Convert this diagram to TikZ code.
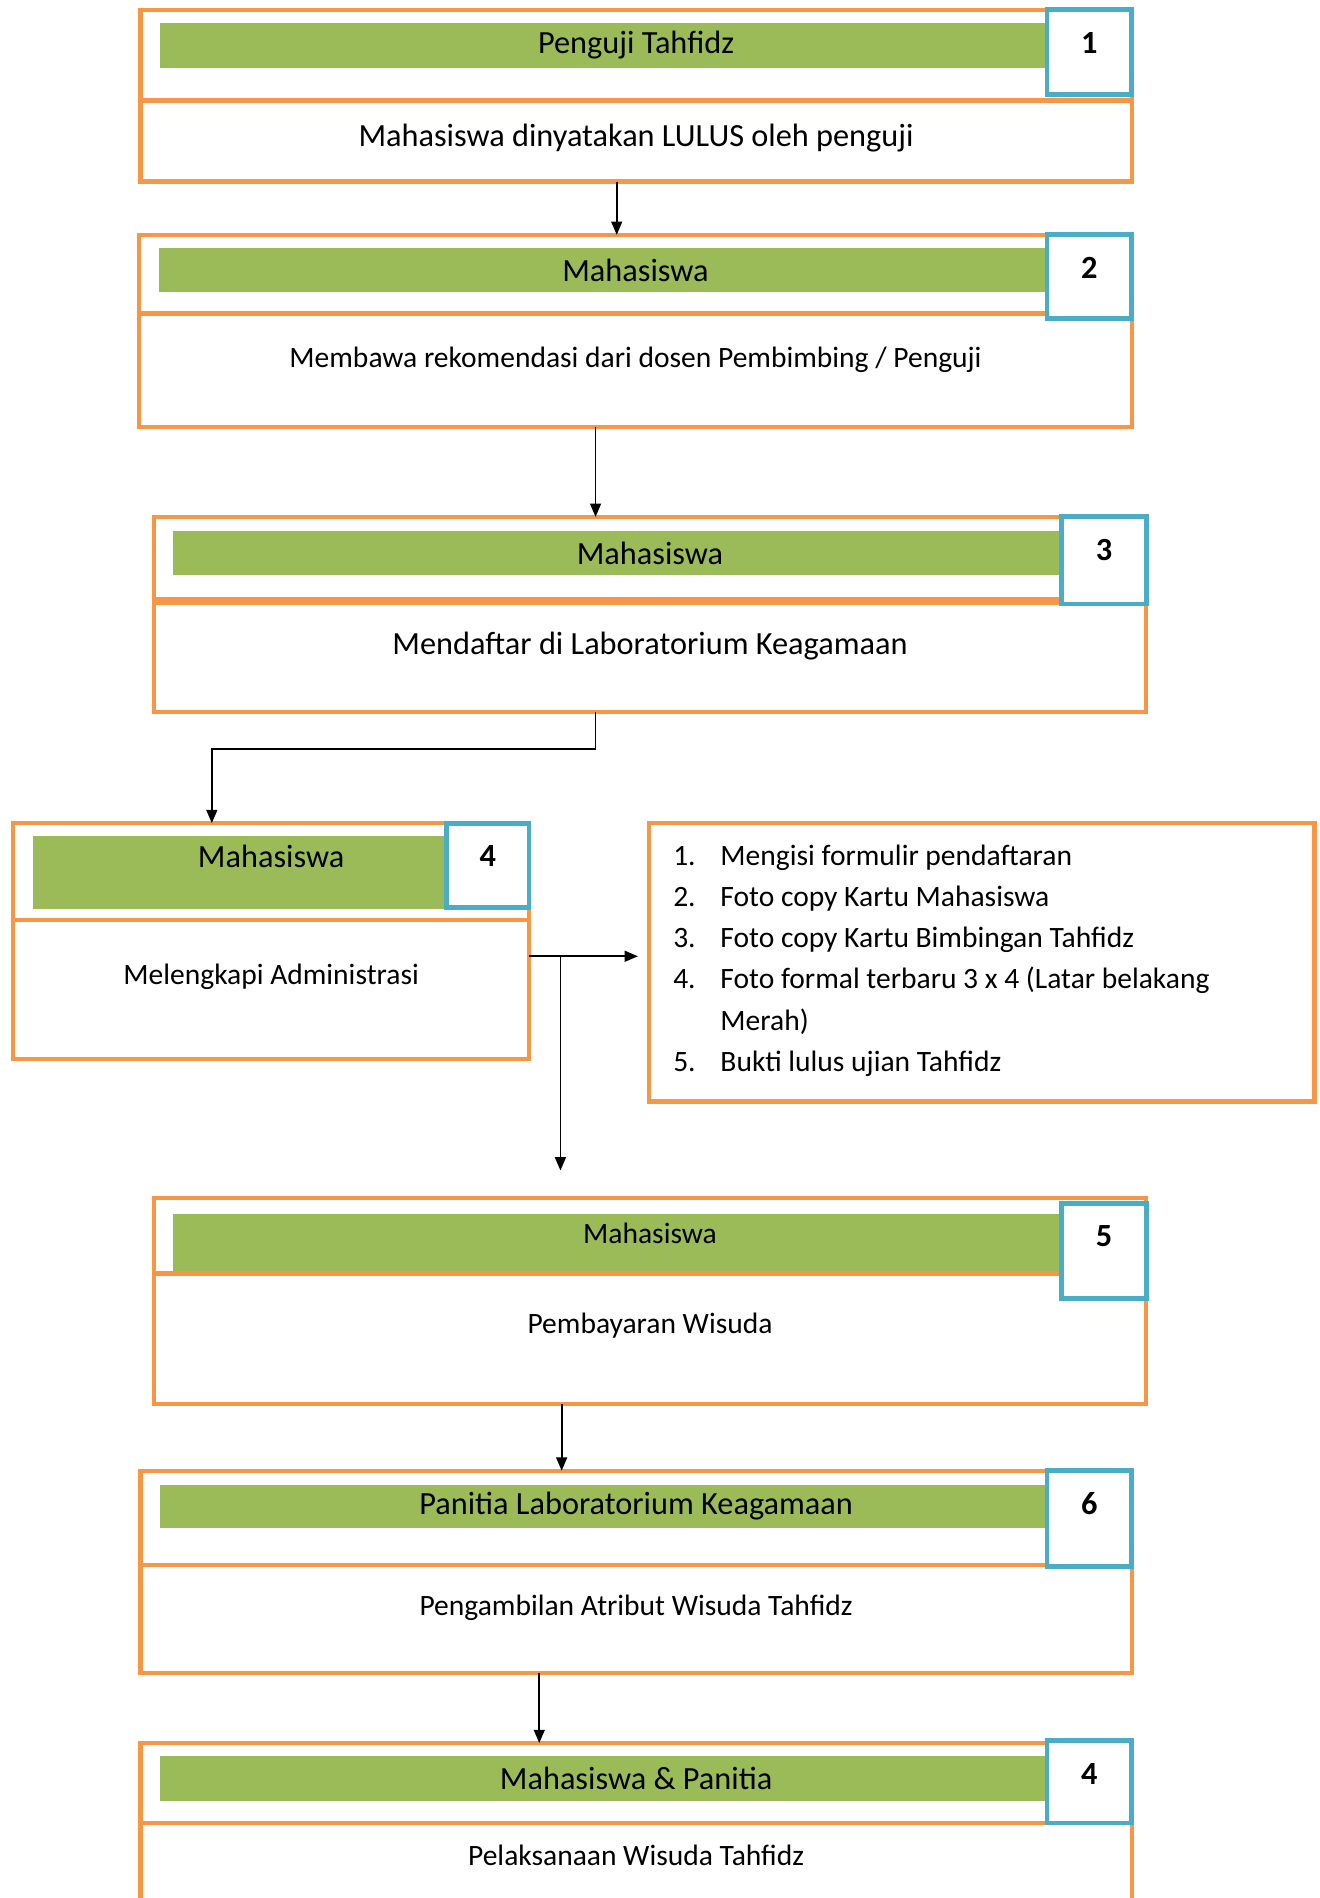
\documentclass[tikz,border=0pt]{standalone}
\usepackage{fontspec}
\setmainfont{Carlito}
\usetikzlibrary{calc,positioning,arrows.meta}

\definecolor{flowOrange}{HTML}{F79646}
\definecolor{flowGreen}{HTML}{9BBB59}
\definecolor{flowBlue}{HTML}{4BACC6}

\tikzset{
  orangebox/.style={rectangle, draw=flowOrange, line width=3.5pt, anchor=north west, inner sep=0pt, outer sep=0pt},
  greenbar/.style={rectangle, fill=flowGreen, inner sep=0pt, outer sep=0pt, font=\fontsize{26.7}{30}\selectfont},
  numbox/.style={rectangle, draw=flowBlue, fill=white, line width=4pt, anchor=north east, inner sep=0pt, outer sep=0pt,
    minimum width=70pt, text height=36pt, text depth=#1, font=\fontsize{26.7}{30}\selectfont\bfseries},
  bigtext/.style={font=\fontsize{26.7}{30}\selectfont},
  smalltext/.style={font=\fontsize{24.4}{28}\selectfont},
}

\begin{document}
\begin{tikzpicture}[x=1pt, y=-1pt, >={Triangle[length=11pt,width=9pt]}]
  \useasboundingbox (0,0) rectangle (1090,1568);

  % step 1
  \node[orangebox, minimum width=819pt, minimum height=75pt] (H1) at (116,8) {};
  \node[greenbar, minimum width=787pt, minimum height=37pt, below right=11pt and 16pt of H1.north west] (G1) {Penguji Tahfidz};
  \node[orangebox, minimum width=819pt, minimum height=67pt] (B1) at (H1.south west) {};
  \node[numbox=34pt] (N1) at (H1.north east) {1};
  \node[bigtext] (T1) at ($(B1.north)+(0,31)$) {Mahasiswa dinyatakan LULUS oleh penguji};

  % step 2
  \node[orangebox, minimum width=820pt, minimum height=65pt] (H2) at (115,194) {};
  \node[greenbar, minimum width=788pt, minimum height=36pt, below right=11pt and 16pt of H2.north west] (G2) {Mahasiswa};
  \node[orangebox, minimum width=820pt, minimum height=94pt] (B2) at (H2.south west) {};
  \node[numbox=33pt] (N2) at (H2.north east) {2};
  \node[smalltext] (T2) at ($(B2.north)+(0,38)$) {Membawa rekomendasi dari dosen Pembimbing / Penguji};

  % step 3
  \node[orangebox, minimum width=820pt, minimum height=68pt] (H3) at (127,427) {};
  \node[greenbar, minimum width=788pt, minimum height=36pt, below right=12pt and 16pt of H3.north west] (G3) {Mahasiswa};
  \node[orangebox, minimum width=820pt, minimum height=90pt, below right=3pt and 0pt of H3.south west] (B3) {};
  \node[numbox=36pt] (N3) at (H3.north east) {3};
  \node[bigtext] (T3) at ($(B3.north)+(0,36)$) {Mendaftar di Laboratorium Keagamaan};

  % step 4
  \node[orangebox, minimum width=426pt, minimum height=80pt] (H4) at (11,680) {};
  \node[greenbar, minimum width=394pt, text height=26pt, text depth=34pt, below right=11pt and 16pt of H4.north west] (G4) {Mahasiswa};
  \node[orangebox, minimum width=426pt, minimum height=115pt] (B4) at (H4.south west) {};
  \node[numbox=34pt, minimum width=68pt] (N4) at (H4.north east) {4};
  \node[smalltext] (T4) at ($(B4.north)+(0,47)$) {Melengkapi Administrasi};

  % syarat
  \node[orangebox, minimum width=550pt, minimum height=230pt] (L) at (536,680) {};
  \node[anchor=base west, inner sep=0pt, font=\fontsize{24.4}{34}\selectfont] (L1) at (556,715) {%
    \begin{tabular}[t]{@{}p{39pt}@{}l@{}}
      1. & Mengisi formulir pendaftaran\\
      2. & Foto copy Kartu Mahasiswa\\
      3. & Foto copy Kartu Bimbingan Tahfidz\\
      4. & Foto formal terbaru 3 x 4 (Latar belakang\\
         & Merah)\\
      5. & Bukti lulus ujian Tahfidz
    \end{tabular}};

  % step 5
  \node[orangebox, minimum width=820pt, minimum height=62pt] (H5) at (127,990) {};
  \node[greenbar, minimum width=788pt, text height=24pt, text depth=23pt, font=\fontsize{24.4}{28}\selectfont, below right=13pt and 16pt of H5.north west] (G5) {Mahasiswa};
  \node[orangebox, minimum width=820pt, minimum height=108pt] (B5) at (H5.south west) {};
  \node[numbox=43pt] (N5) at ($(H5.north east)+(0,4)$) {5};
  \node[smalltext] (T5) at ($(B5.north)+(0,43)$) {Pembayaran Wisuda};

  % step 6
  \node[orangebox, minimum width=819pt, minimum height=78pt] (H6) at (116,1215) {};
  \node[greenbar, minimum width=787pt, minimum height=35pt, below right=12pt and 16pt of H6.north west] (G6) {Panitia Laboratorium Keagamaan};
  \node[orangebox, minimum width=819pt, minimum height=89pt] (B6) at (H6.south west) {};
  \node[numbox=43pt] (N6) at (H6.north east) {6};
  \node[smalltext] (T6) at ($(B6.north)+(0,35)$) {Pengambilan Atribut Wisuda Tahfidz};

  % step 7
  \node[orangebox, minimum width=819pt, minimum height=66pt] (H7) at (116,1440) {};
  \node[greenbar, minimum width=787pt, minimum height=37pt, below right=11pt and 16pt of H7.north west] (G7) {Mahasiswa \& Panitia};
  \node[orangebox, minimum width=819pt, minimum height=100pt] (B7) at (H7.south west) {};
  \node[numbox=32pt] (N7) at ($(H7.north east)+(0,-2)$) {4};
  \node[smalltext] (T7) at ($(B7.north)+(0,27)$) {Pelaksanaan Wisuda Tahfidz};

  % connectors
  \coordinate (a1) at ($(B1.south)+(-16,0)$);
  \coordinate (a2) at ($(B2.south)+(-33,0)$);
  \coordinate (a3) at ($(B3.south)+(-45,0)$);
  \coordinate (a4) at ($(H4.north)+(-49,0)$);
  \coordinate (a5) at ($(B4.north east)+(0,30)$);
  \coordinate (a6) at ($(a5 -| L.west)+(-9,0)$);
  \coordinate (a7) at ($(a5)+(26,0)$);
  \coordinate (a8) at ($(a7 |- H5.north)+(0,-23)$);
  \coordinate (a9) at ($(B5.south)+(-73,0)$);
  \coordinate (a10) at ($(B6.south)+(-80,0)$);

  \path[->, line width=1.5pt]
  (a1) edge (a1 |- H2.north)
  (a2) edge (a2 |- H3.north)
  (a5) edge (a6)
  (a7) edge (a8)
  (a9) edge (a9 |- H6.north)
  (a10) edge (a10 |- H7.north);
  \draw[->, line width=1.5pt] (a3) -- ++(0,31) -| (a4);
\end{tikzpicture}
\end{document}
